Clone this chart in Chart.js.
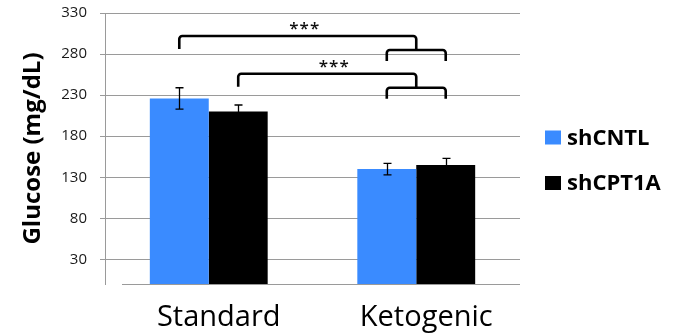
<!DOCTYPE html>
<html>
<head>
<meta charset="utf-8">
<script src="https://cdn.jsdelivr.net/npm/chart.js@4/dist/chart.umd.min.js"></script>
<style>
  html, body { margin: 0; padding: 0; background: #fff; }
  #wrap { width: 676px; height: 336px; }
</style>
</head>
<body>
<div id="wrap"><canvas id="chart" width="676" height="336"></canvas></div>
<script>
// Blood glucose by diet and knockdown
const categories = ['Standard', 'Ketogenic'];
const seriesNames = ['shCNTL', 'shCPT1A'];
const shCNTL = [226, 140];
const shCNTLErr = [13, 7];
const shCPT1A = [210, 145];
const shCPT1AErr = [8, 8];
const yTicks = [30, 80, 130, 180, 230, 280, 330];

// Significance brackets: Standard-diet bar (dataset index) vs. the Ketogenic pair
const bracketFrom = [0, 1];
const bracketLevel = [302, 256];
const bracketMark = ['***', '***'];

const errors = [shCNTLErr, shCPT1AErr];
const colors = ['#3a8bff', '#000000'];
const axisGrey = '#9a9a9a';

const overlay = {
  id: 'overlay',
  beforeDatasetsDraw(chart) {
    const { ctx, chartArea } = chart;
    // category axis line (starts a little inside the value axis)
    ctx.save();
    ctx.strokeStyle = axisGrey;
    ctx.lineWidth = 1;
    ctx.beginPath();
    ctx.moveTo(chartArea.left + 17, chartArea.bottom + 0.5);
    ctx.lineTo(chartArea.right, chartArea.bottom + 0.5);
    ctx.stroke();
    ctx.restore();
  },
  afterDatasetsDraw(chart) {
    const { ctx, chartArea } = chart;
    const y = chart.scales.y;
    ctx.save();

    // error bars
    ctx.strokeStyle = '#000';
    ctx.lineWidth = 1.3;
    chart.data.datasets.forEach((ds, di) => {
      const meta = chart.getDatasetMeta(di);
      meta.data.forEach((bar, i) => {
        const v = ds.data[i], e = errors[di][i];
        const yHi = y.getPixelForValue(v + e);
        const yLo = y.getPixelForValue(v - e);
        const x = Math.round(bar.x) + 0.5;
        ctx.beginPath();
        ctx.moveTo(x, yHi); ctx.lineTo(x, yLo);
        ctx.moveTo(x - 4, yHi); ctx.lineTo(x + 4, yHi);
        ctx.moveTo(x - 4, yLo); ctx.lineTo(x + 4, yLo);
        ctx.stroke();
      });
    });

    // significance brackets
    const m0 = chart.getDatasetMeta(0), m1 = chart.getDatasetMeta(1);
    const xa = m0.data[1].x, xb = m1.data[1].x, xm = (xa + xb) / 2;
    ctx.lineWidth = 2.6;
    ctx.lineJoin = 'round';
    ctx.lineCap = 'butt';
    const r = 3;
    bracketFrom.forEach((di, k) => {
      const x1 = chart.getDatasetMeta(di).data[0].x;
      const yTop = y.getPixelForValue(bracketLevel[k]);
      const ySub = yTop + 14;
      ctx.beginPath();
      ctx.moveTo(x1, yTop + 13);
      ctx.arcTo(x1, yTop, xm, yTop, r);
      ctx.arcTo(xm, yTop, xm, ySub, r);
      ctx.lineTo(xm, ySub);
      ctx.stroke();
      ctx.beginPath();
      ctx.moveTo(xa, ySub + 11);
      ctx.arcTo(xa, ySub, xb, ySub, r);
      ctx.arcTo(xb, ySub, xb, ySub + 11, r);
      ctx.lineTo(xb, ySub + 11);
      ctx.stroke();

      ctx.fillStyle = '#111';
      ctx.font = '600 17px "Open Sans"';
      ctx.letterSpacing = '1px';
      ctx.textAlign = 'center';
      ctx.textBaseline = 'middle';
      ctx.fillText(bracketMark[k], (x1 + xm) / 2 + 7, yTop - 7);
      ctx.letterSpacing = '0px';
    });

    // legend
    ctx.font = 'bold 22px "Open Sans"';
    ctx.textAlign = 'left';
    ctx.textBaseline = 'middle';
    chart.data.datasets.forEach((ds, di) => {
      const cy = 137.5 + di * 45.5;
      ctx.fillStyle = ds.backgroundColor;
      ctx.fillRect(chartArea.right + 25, cy - 7, 16, 14);
      ctx.fillStyle = '#000';
      ctx.fillText(ds.label, chartArea.right + 47, cy + 1);
    });
    ctx.restore();
  }
};

new Chart(document.getElementById('chart'), {
  type: 'bar',
  data: {
    labels: categories,
    datasets: [
      { label: seriesNames[0], data: shCNTL, backgroundColor: colors[0] },
      { label: seriesNames[1], data: shCPT1A, backgroundColor: colors[1] }
    ]
  },
  options: {
    responsive: false,
    animation: false,
    devicePixelRatio: 1,
    layout: { padding: { top: 13, right: 156, left: 0, bottom: 0 } },
    categoryPercentage: 0.568,
    barPercentage: 1,
    plugins: { legend: { display: false }, tooltip: { enabled: false } },
    scales: {
      x: {
        grid: { display: false, drawTicks: false },
        border: { display: false },
        ticks: {
          color: '#000',
          font: { family: 'Open Sans', size: 29 },
          padding: 16,
          labelOffset: 10,
          maxRotation: 0
        },
        afterFit(scale) {
          scale.height = 52;
          scale.paddingLeft = 0;
          scale.paddingRight = 0;
        }
      },
      y: {
        min: 0,
        max: 330,
        afterBuildTicks(scale) { scale.ticks = yTicks.map(v => ({ value: v })); },
        grid: { color: axisGrey, lineWidth: 1, tickLength: 5 },
        border: { display: true, color: axisGrey, width: 1 },
        ticks: {
          color: '#1a1a1a',
          font: { family: 'Open Sans', size: 15 },
          padding: 13
        },
        title: {
          display: true,
          text: 'Glucose (mg/dL)',
          color: '#000',
          font: { family: 'Open Sans', size: 24, weight: 'bold' },
          padding: { top: 19, bottom: 0 }
        },
        afterFit(scale) {
          scale.width = 105;
          scale.paddingTop = 0;
          scale.paddingBottom = 0;
        }
      }
    }
  },
  plugins: [overlay]
});
</script>
</body>
</html>
